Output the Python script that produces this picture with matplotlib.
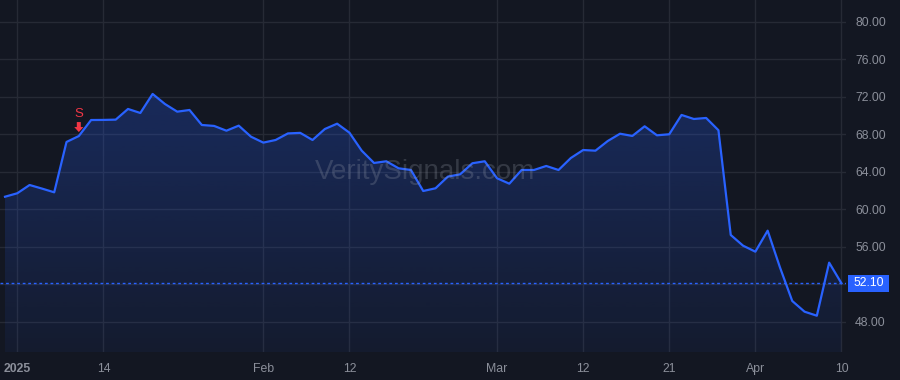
import matplotlib
matplotlib.use("Agg")
import matplotlib.pyplot as plt
import numpy as np
from matplotlib.colors import to_rgb
from matplotlib.patches import Rectangle, Polygon

plt.rcParams['font.family'] = ['Liberation Sans', 'DejaVu Sans']

dates = [
    "2024-12-31",
    "2025-01-02", "2025-01-03", "2025-01-06", "2025-01-07", "2025-01-08", "2025-01-10",
    "2025-01-13", "2025-01-14", "2025-01-15", "2025-01-16", "2025-01-17", "2025-01-21",
    "2025-01-22", "2025-01-23", "2025-01-24", "2025-01-27", "2025-01-28", "2025-01-29",
    "2025-01-30", "2025-01-31",
    "2025-02-03", "2025-02-04", "2025-02-05", "2025-02-06", "2025-02-07", "2025-02-10",
    "2025-02-11", "2025-02-12", "2025-02-13", "2025-02-14", "2025-02-18", "2025-02-19",
    "2025-02-20", "2025-02-21", "2025-02-24", "2025-02-25", "2025-02-26", "2025-02-27",
    "2025-02-28",
    "2025-03-03", "2025-03-04", "2025-03-05", "2025-03-06", "2025-03-07", "2025-03-10",
    "2025-03-11", "2025-03-12", "2025-03-13", "2025-03-14", "2025-03-17", "2025-03-18",
    "2025-03-19", "2025-03-20", "2025-03-21", "2025-03-24", "2025-03-25", "2025-03-26",
    "2025-03-27", "2025-03-28", "2025-03-31",
    "2025-04-01", "2025-04-02", "2025-04-03", "2025-04-04", "2025-04-07", "2025-04-08",
    "2025-04-09", "2025-04-10",
]

prices = [
    61.33,
    61.70, 62.58, 62.20, 61.80, 67.17, 67.80,
    69.51, 69.52, 69.55, 70.69, 70.26, 72.29,
    71.22, 70.40, 70.58, 68.98, 68.88, 68.37,
    68.91, 67.73,
    67.10, 67.38, 68.08, 68.14, 67.38, 68.55,
    69.12, 68.16, 66.24, 64.93, 65.11, 64.36,
    64.18, 61.94, 62.23, 63.47, 63.72, 64.90,
    65.11,
    63.30, 62.72, 64.18, 64.18, 64.61, 64.18,
    65.46, 66.31, 66.24, 67.27, 68.05, 67.81,
    68.84, 67.88, 67.99, 70.05, 69.62, 69.73,
    68.42, 57.25, 56.11,
    55.47, 57.71, 53.80, 50.21, 49.07, 48.64,
    54.30, 52.10,
]

tick_dates = ["2025-01-02", "2025-01-14", "2025-02-03", "2025-02-12", "2025-03-03",
              "2025-03-12", "2025-03-21", "2025-04-01", "2025-04-10"]
tick_labels = ["2025", "14", "Feb", "12", "Mar", "12", "21", "Apr", "10"]
y_ticks = [48, 52, 56, 60, 64, 68, 72, 76, 80]
y_tick_labels = ["48.00", "", "56.00", "60.00", "64.00", "68.00", "72.00", "76.00", "80.00"]

signal_date = "2025-01-10"
signal_label = "S"
last_price = prices[-1]
watermark = "VeritySignals.com"

BG = "#131722"
GRID = "#262a35"
LINE = "#2962FF"
TXT = "#8b8f9a"
RED = "#F23645"

W, H = 900, 380
fig = plt.figure(figsize=(W / 100, H / 100), dpi=100, facecolor=BG)
ax = fig.add_axes([0, 1 - 352 / H, 846 / W, 352 / H], facecolor=BG)

x = np.arange(len(dates))
y = np.array(prices)

XL = (-0.407, 68.37)
YL = (44.77, 82.31)

# gradient fill under the line
ymin = YL[0]
r, g, b = to_rgb(LINE)
grad = np.zeros((256, 1, 4))
grad[:, 0, 0] = r
grad[:, 0, 1] = g
grad[:, 0, 2] = b
grad[:, 0, 3] = np.linspace(0.06, 0.26, 256)
poly = ax.fill_between(x, y, ymin, color="none", lw=0)
img = ax.imshow(grad, extent=[x[0], x[-1], ymin, max(prices)], origin="lower",
                aspect="auto", zorder=1)
img.set_clip_path(poly.get_paths()[0], transform=ax.transData)
ax.set_xlim(*XL)
ax.set_ylim(*YL)

ax.plot(x, y, color=LINE, lw=1.6, zorder=3, solid_joinstyle="round")

# last price dotted line
ax.axhline(last_price, color=LINE, lw=1, ls=(0, (2, 2)), zorder=2)

# grid & ticks
ax.set_yticks(y_ticks)
ax.set_yticklabels(y_tick_labels)
tick_pos = [dates.index(d) for d in tick_dates]
ax.set_xticks(tick_pos)
ax.set_xticklabels(tick_labels)
ax.grid(True, color=GRID, lw=1, zorder=0)
ax.set_axisbelow(True)
ax.yaxis.tick_right()
ax.tick_params(axis="y", length=0, pad=6.5, labelsize=8.8, labelcolor=TXT)
ax.tick_params(axis="x", length=0, pad=8, labelsize=8.8, labelcolor=TXT)
for lab in ax.get_xticklabels():
    if lab.get_text() == "2025":
        lab.set_fontweight("bold")
for s in ax.spines.values():
    s.set_visible(False)

# price label on right axis
ypx = ax.transData.transform((0, last_price))[1]
fig.patches.append(Rectangle((848, ypx - 8.5), 41, 17, transform=None,
                             facecolor=LINE, edgecolor="none"))
fig.text(868.5 / W, ypx / H, f"{last_price:.2f}", color="white", fontsize=8.8,
         ha="center", va="center")

# signal marker (down arrow + letter), sized in pixels above the data point
si = dates.index(signal_date)
sy = prices[si]
px, py = ax.transData.transform((si, sy))
tip = py + 4
arrow = [(px, tip), (px - 4.6, tip + 5), (px - 2, tip + 5), (px - 2, tip + 10),
         (px + 2, tip + 10), (px + 2, tip + 5), (px + 4.6, tip + 5)]
fig.patches.append(Polygon(arrow, closed=True, transform=None, facecolor=RED,
                           edgecolor="none", zorder=5))
fig.text(px / W, (py + 22) / H, signal_label, color=RED, fontsize=9.5,
         ha="center", va="center")

# watermark
ax.text(0.502, 0.511, watermark, transform=ax.transAxes, fontsize=20,
        color="#9aa0ad", alpha=0.25, ha="center", va="center", zorder=4)

fig.savefig("out.png", dpi=100, facecolor=BG)
